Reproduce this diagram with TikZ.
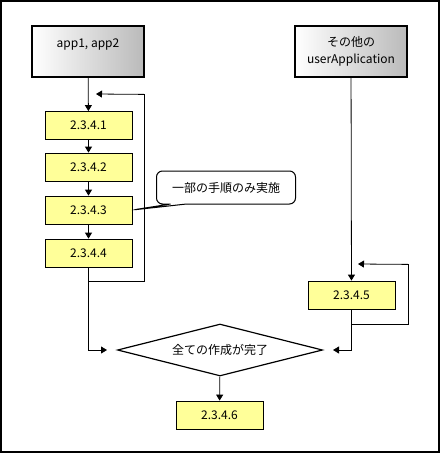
\documentclass[tikz,border=0pt]{standalone}
\usepackage{fontspec}
\setmainfont{Noto Sans CJK JP}
\usetikzlibrary{shapes.geometric,shapes.callouts,arrows.meta}
\definecolor{jaune}{RGB}{255,255,153}
\begin{document}
\begin{tikzpicture}[x=1pt,y=-1pt]
\tikzset{appli/.style={draw, line width=1.5pt, left color=white, right color=black!27, minimum width=112pt, minimum height=51pt, align=center, font=\fontsize{12}{17}\selectfont},
proc/.style={draw, fill=jaune, line width=0.8pt, minimum width=87pt, minimum height=28pt, font=\fontsize{12}{14}\selectfont},
choix/.style={draw, diamond, line width=1.2pt, aspect=3.9, minimum width=205pt, minimum height=52pt, inner sep=0pt, font=\fontsize{12}{14}\selectfont},
bulle/.style={draw, rectangle callout, rounded corners=6pt, line width=1pt, minimum width=139pt, minimum height=33pt, callout pointer width=16pt, font=\fontsize{12}{14}\selectfont},
fleche/.style={-{Triangle[length=6pt,width=7pt]}, line width=0.8pt}}
\useasboundingbox (0,0) rectangle (440,453);
\draw[line width=1.5pt] (1,1) rectangle (439,452);
\node[appli] (A) at (88,51.5) {app1, app2\\\mbox{}};
\node[appli] (U) at (351,51.5) {その他の\\userApplication};
\node[proc] (P1) at (88.5,125.5) {2.3.4.1};
\node[proc] (P2) at (88.5,167) {2.3.4.2};
\node[proc] (P3) at (88.5,210) {2.3.4.3};
\node[proc] (P4) at (88.5,253) {2.3.4.4};
\node[proc] (P5) at (351.5,295) {2.3.4.5};
\node[choix] (D) at (220,350) {全ての作成が完了};
\node[proc] (P6) at (219.5,415) {2.3.4.6};
\node[bulle, callout absolute pointer={(P3.east)}] (C) at (226,187.5) {一部の手順のみ実施};
\coordinate (L1) at (96,94);
\coordinate (L2) at (107,350);
\coordinate (R1) at (358,264);
\coordinate (R2) at (333,350);
\draw[fleche] (A) -- (P1);
\draw[fleche] (P1) -- (P2);
\draw[fleche] (P2) -- (P3);
\draw[fleche] (P3) -- (P4);
\draw[fleche] (P4.south) -- ++(0,14) -| ++(56,-187) -- (L1);
\draw[fleche] (P4.south) |- (L2);
\draw[fleche] (U) -- (P5);
\draw[fleche] (P5.south) -- ++(0,15) -| ++(57,-60) -- (R1);
\draw[fleche] (P5.south) |- (R2);
\draw[fleche] (D) -- (P6);
\end{tikzpicture}
\end{document}
